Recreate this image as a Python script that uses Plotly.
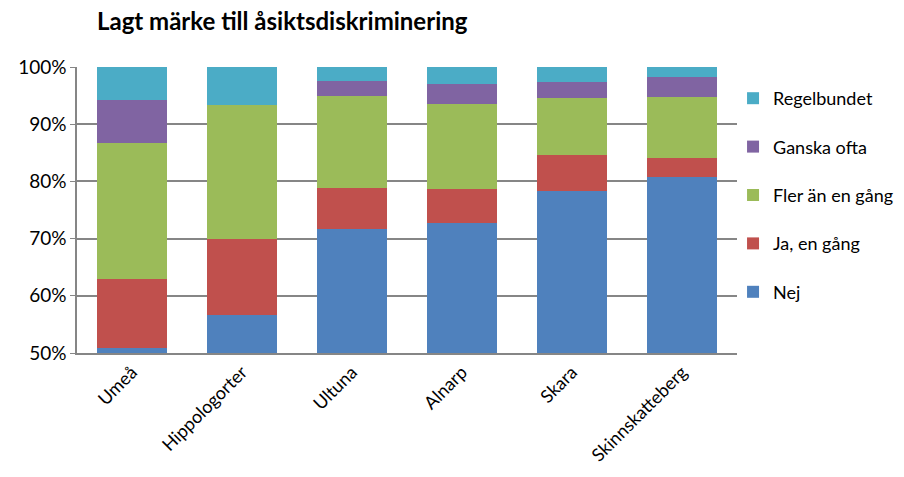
import plotly.graph_objects as go

categories = ["Umeå", "Hippologorter", "Ultuna", "Alnarp", "Skara", "Skinnskatteberg"]
nej = [50.8, 56.6, 71.6, 72.7, 78.4, 80.7]
ja_en_gang = [12.1, 13.3, 7.2, 6.0, 6.2, 3.4]
fler_an_en_gang = [23.8, 23.4, 16.2, 14.8, 10.0, 10.6]
ganska_ofta = [7.5, 0.0, 2.5, 3.6, 2.7, 3.5]
regelbundet = [5.8, 6.7, 2.5, 2.9, 2.7, 1.8]
y_ticks = [50, 60, 70, 80, 90, 100]
y_tick_labels = ["50%", "60%", "70%", "80%", "90%", "100%"]

series = [
    ("Nej", nej, "#4F81BD"),
    ("Ja, en gång", ja_en_gang, "#C0504D"),
    ("Fler än en gång", fler_an_en_gang, "#9BBB59"),
    ("Ganska ofta", ganska_ofta, "#8064A2"),
    ("Regelbundet", regelbundet, "#4BACC6"),
]

fig = go.Figure()
n = len(series)
for i, (name, vals, color) in enumerate(series):
    fig.add_trace(go.Bar(
        x=categories, y=vals, name=name, legendgroup=name,
        legendrank=n - i,
        marker=dict(color=color, line=dict(width=0)),
    ))

# the page body has an 8px margin, so layout is offset by 8px
off = 8
font_family = "Lato, 'Open Sans', sans-serif"
fig.update_layout(
    barmode="stack",
    bargap=0.364,
    width=904, height=477,
    margin=dict(l=77 - off, r=904 - (737 - off), t=67 - off, b=477 - (353 - off), autoexpand=False),
    plot_bgcolor="white", paper_bgcolor="white",
    font=dict(family=font_family, size=19, color="#000000"),
    title=dict(text="<b>Lagt märke till åsiktsdiskriminering</b>",
               x=(97 - off) / 904, xanchor="left", xref="container",
               y=1 - 5 / 477, yanchor="top", yref="container",
               pad=dict(l=0, r=0, t=0, b=0),
               font=dict(size=24, family=font_family, color="#000000")),
    legend=dict(x=0.994, xanchor="left", xref="paper",
                y=1 - 13 / 286, yanchor="top", yref="paper",
                traceorder="grouped", tracegroupgap=22,
                font=dict(size=18, family=font_family),
                bgcolor="rgba(0,0,0,0)"),
    showlegend=True,
)
fig.update_xaxes(showline=True, linecolor="#868686", linewidth=1.5,
                 tickangle=-45, ticks="", tickfont=dict(size=18), automargin=False)
fig.update_yaxes(range=[50, 100], tickvals=y_ticks, ticktext=y_tick_labels,
                 showgrid=True, gridcolor="#868686", gridwidth=1.5,
                 showline=True, linecolor="#868686", linewidth=1.5,
                 ticks="outside", ticklen=5, tickcolor="#868686",
                 tickfont=dict(size=19), zeroline=False, automargin=False)

fig.write_html("out.html")
